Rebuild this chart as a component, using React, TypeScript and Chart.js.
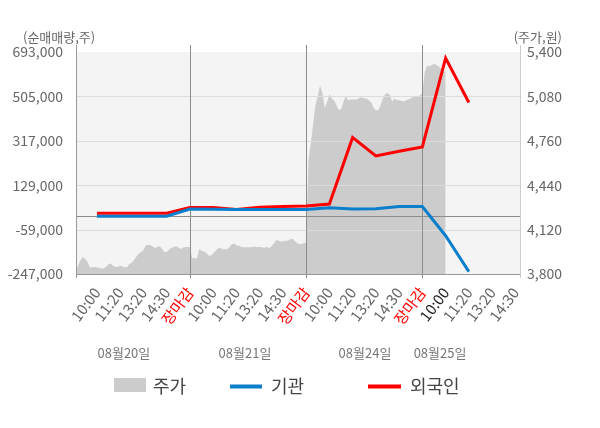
import React, { useEffect, useRef } from 'react';
import { Chart, registerables } from 'chart.js';

Chart.register(...registerables);

const FONT = "'Noto Sans CJK KR', 'Noto Sans', sans-serif";

const timeLabels = [
  '10:00', '11:20', '13:20', '14:30', '장마감',
  '10:00', '11:20', '13:20', '14:30', '장마감',
  '10:00', '11:20', '13:20', '14:30', '장마감',
  '10:00', '11:20', '13:20', '14:30',
];
const closeLabel = '장마감';
const currentSlot = 16;
const sessionCloseSlots = [5, 10, 15];

const dayLabels = ['08월20일', '08월21일', '08월24일', '08월25일'];
const dayLabelPos = [2.16, 7.37, 12.53, 15.76];

const leftTicks = [-247000, -59000, 129000, 317000, 505000, 693000];
const rightTicks = [3800, 4120, 4440, 4760, 5080, 5400];

const priceStart = 0.1;
const priceStep = 0.1;
const priceValues = [
  // 08/20
  3825, 3865, 3901, 3922, 3908, 3886, 3847, 3848, 3852, 3847,
  3843, 3839, 3840, 3854, 3870, 3876, 3858, 3850, 3852, 3859,
  3854, 3849, 3849, 3873, 3881, 3902, 3927, 3948, 3958, 3973,
  4005, 4010, 4007, 3998, 3987, 3994, 4002, 3982, 3958, 3958,
  3976, 3990, 3992, 4002, 3991, 3981, 3989, 3994, 3994, 3994,
  // 08/21
  3913, 3913, 3913, 3979, 3969, 3963, 3953, 3933, 3931, 3948,
  3966, 3984, 3990, 3979, 3978, 3979, 3992, 4014, 4020, 4007,
  4003, 3997, 3992, 3992, 3992, 3992, 3994, 3999, 3992, 3994,
  3992, 3990, 3996, 3988, 3998, 4017, 4043, 4041, 4035, 4034,
  4040, 4040, 4048, 4056, 4039, 4023, 4016, 4016, 4022, 4025,
  // 08/24
  4614, 4743, 4880, 5017, 5082, 5161, 5103, 4999, 5038, 5096,
  5064, 5053, 5018, 4984, 4988, 5038, 5082, 5053, 5057, 5058,
  5058, 5058, 5071, 5073, 5065, 5065, 5053, 5038, 4999, 4981,
  4981, 5017, 5064, 5096, 5105, 5091, 5042, 5064, 5053, 5053,
  5049, 5042, 5053, 5060, 5065, 5077, 5082, 5082, 5087, 5103,
  // 08/25
  5254, 5301, 5298, 5305, 5316, 5308, 5295, 5281, 5269, 5254,
];

const institutionValues = [
  -2000, -2000, -2000, -2000, 28000, 27000, 26000, 26000, 26000, 26000,
  33000, 28000, 29000, 39000, 39000, -85000, -237000,
];
const foreignValues = [
  10000, 10000, 10000, 10000, 35000, 35000, 26000, 36000, 39000, 41000,
  49000, 331000, 253000, 273000, 291000, 667000, 479000,
];

const AREA_COLOR = '#cccccc';
const BLUE = '#0b7fcc';
const RED = '#ff0000';

const decorPlugin = {
  id: 'decor',
  beforeDraw(chart: any) {
    const { ctx, chartArea: a } = chart;
    ctx.save();
    ctx.fillStyle = '#ffffff';
    ctx.fillRect(0, 0, chart.width, chart.height);
    ctx.fillStyle = '#f4f4f4';
    ctx.fillRect(a.left, a.top, a.right - a.left, a.bottom - a.top);
    ctx.restore();
  },
  afterDatasetDraw(chart: any, args: any) {
    if (args.index !== 0) return;
    const { ctx, chartArea: a } = chart;
    const ys = chart.scales.y;
    const xs = chart.scales.x;
    ctx.save();
    ctx.lineWidth = 1;
    ctx.strokeStyle = '#dcdcdc';
    leftTicks.forEach((v) => {
      if (v === leftTicks[0] || v === leftTicks[leftTicks.length - 1]) return;
      const y = Math.round(ys.getPixelForValue(v)) + 0.5;
      ctx.beginPath();
      ctx.moveTo(a.left, y);
      ctx.lineTo(a.right, y);
      ctx.stroke();
    });
    ctx.strokeStyle = '#8c8c8c';
    const y0 = Math.round(ys.getPixelForValue(0)) + 0.5;
    ctx.beginPath();
    ctx.moveTo(a.left, y0);
    ctx.lineTo(a.right, y0);
    ctx.stroke();
    sessionCloseSlots.forEach((s) => {
      const x = Math.round(xs.getPixelForValue(s)) + 0.5;
      ctx.beginPath();
      ctx.moveTo(x, a.top - 7);
      ctx.lineTo(x, a.bottom + 4);
      ctx.stroke();
    });
    ctx.restore();
  },
  afterDraw(chart: any) {
    const { ctx, chartArea: a } = chart;
    const xs = chart.scales.x;
    ctx.save();
    ctx.lineWidth = 1;
    // axes
    ctx.strokeStyle = '#999999';
    const lx = Math.round(a.left) + 0.5;
    ctx.beginPath();
    ctx.moveTo(lx, a.top - 7);
    ctx.lineTo(lx, a.bottom + 4);
    ctx.stroke();
    const by = Math.round(a.bottom) + 0.5;
    ctx.beginPath();
    ctx.moveTo(a.left, by);
    ctx.lineTo(a.right, by);
    ctx.stroke();
    ctx.strokeStyle = '#cccccc';
    const rx = Math.round(a.right) + 0.5;
    ctx.beginPath();
    ctx.moveTo(rx, a.top - 7);
    ctx.lineTo(rx, a.bottom + 4);
    ctx.stroke();

    // axis titles
    ctx.fillStyle = '#666666';
    ctx.font = `13px ${FONT}`;
    ctx.textBaseline = 'middle';
    ctx.textAlign = 'left';
    ctx.fillText('(순매매량,주)', 23, 37);
    ctx.textAlign = 'right';
    ctx.fillText('(주가,원)', 562, 37);

    // day labels
    ctx.fillStyle = '#777777';
    ctx.textAlign = 'center';
    dayLabels.forEach((d, i) => {
      ctx.fillText(d, xs.getPixelForValue(dayLabelPos[i]), 353);
    });

    // legend
    const ly = 386;
    ctx.font = `18px ${FONT}`;
    ctx.textAlign = 'left';
    ctx.fillStyle = AREA_COLOR;
    ctx.fillRect(114, ly - 8, 32, 14);
    ctx.fillStyle = '#444444';
    ctx.fillText('주가', 153, ly);
    ctx.lineWidth = 4;
    ctx.strokeStyle = BLUE;
    ctx.beginPath();
    ctx.moveTo(230, ly + 0.5);
    ctx.lineTo(262, ly + 0.5);
    ctx.stroke();
    ctx.fillText('기관', 271, ly);
    ctx.strokeStyle = RED;
    ctx.beginPath();
    ctx.moveTo(368, ly + 0.5);
    ctx.lineTo(401, ly + 0.5);
    ctx.stroke();
    ctx.fillText('외국인', 410, ly);
    ctx.restore();
  },
};

export default function App() {
  const ref = useRef<HTMLCanvasElement | null>(null);

  useEffect(() => {
    if (!ref.current) return;
    Chart.defaults.font.family = FONT;
    const chart = new Chart(ref.current, {
      type: 'line',
      data: {
        datasets: [
          {
            label: '주가',
            data: priceValues.map((v, i) => ({ x: priceStart + i * priceStep, y: v })),
            yAxisID: 'y1',
            borderWidth: 0,
            borderColor: AREA_COLOR,
            backgroundColor: AREA_COLOR,
            fill: 'start',
            pointRadius: 0,
            tension: 0,
            order: 3,
          },
          {
            label: '외국인',
            data: foreignValues.map((v, i) => ({ x: i + 1, y: v })),
            yAxisID: 'y',
            borderColor: RED,
            borderWidth: 3,
            pointRadius: 0,
            fill: false,
            tension: 0,
            order: 2,
          },
          {
            label: '기관',
            data: institutionValues.map((v, i) => ({ x: i + 1, y: v })),
            yAxisID: 'y',
            borderColor: BLUE,
            borderWidth: 3,
            pointRadius: 0,
            fill: false,
            tension: 0,
            order: 1,
          },
        ],
      },
      options: {
        animation: false,
        responsive: false,
        layout: { padding: { top: 52, left: 0, right: 0, bottom: 0 } },
        plugins: {
          legend: { display: false },
          tooltip: { enabled: false },
        },
        scales: {
          x: {
            type: 'linear',
            min: 0.1,
            max: 19.2,
            afterBuildTicks: (s: any) => {
              s.ticks = timeLabels.map((_, i) => ({ value: i + 1 }));
            },
            afterFit: (s: any) => {
              s.height = 154;
              s.paddingLeft = 0;
              s.paddingRight = 0;
            },
            grid: { display: false },
            border: { display: false },
            ticks: {
              autoSkip: false,
              minRotation: 53,
              maxRotation: 53,
              padding: 2,
              font: { family: FONT, size: 15 },
              color: (c: any) => {
                const slot = c.index + 1;
                if (timeLabels[c.index] === closeLabel) return RED;
                if (slot === currentSlot) return '#222222';
                return '#666666';
              },
              callback: (v: any) => timeLabels[Math.round(Number(v)) - 1],
            },
          },
          y: {
            type: 'linear',
            position: 'left',
            min: leftTicks[0],
            max: leftTicks[leftTicks.length - 1],
            afterBuildTicks: (s: any) => {
              s.ticks = leftTicks.map((v) => ({ value: v }));
            },
            afterFit: (s: any) => {
              s.width = 76;
            },
            grid: { display: false, drawTicks: false },
            border: { display: false },
            ticks: {
              padding: 13,
              color: '#666666',
              font: { family: FONT, size: 14 },
              callback: (v: any) => Number(v).toLocaleString('en-US'),
            },
          },
          y1: {
            type: 'linear',
            position: 'right',
            min: rightTicks[0],
            max: rightTicks[rightTicks.length - 1],
            afterBuildTicks: (s: any) => {
              s.ticks = rightTicks.map((v) => ({ value: v }));
            },
            afterFit: (s: any) => {
              s.width = 80;
            },
            grid: { display: false, drawTicks: false },
            border: { display: false },
            ticks: {
              padding: 7,
              color: '#666666',
              font: { family: FONT, size: 14 },
              callback: (v: any) => Number(v).toLocaleString('en-US'),
            },
          },
        },
      },
      plugins: [decorPlugin],
    });
    return () => chart.destroy();
  }, []);

  return (
    <div style={{ position: 'fixed', left: 0, top: 0, width: 600, height: 428, background: '#fff' }}>
      <canvas ref={ref} width={600} height={428} style={{ width: 600, height: 428, display: 'block' }} />
    </div>
  );
}
